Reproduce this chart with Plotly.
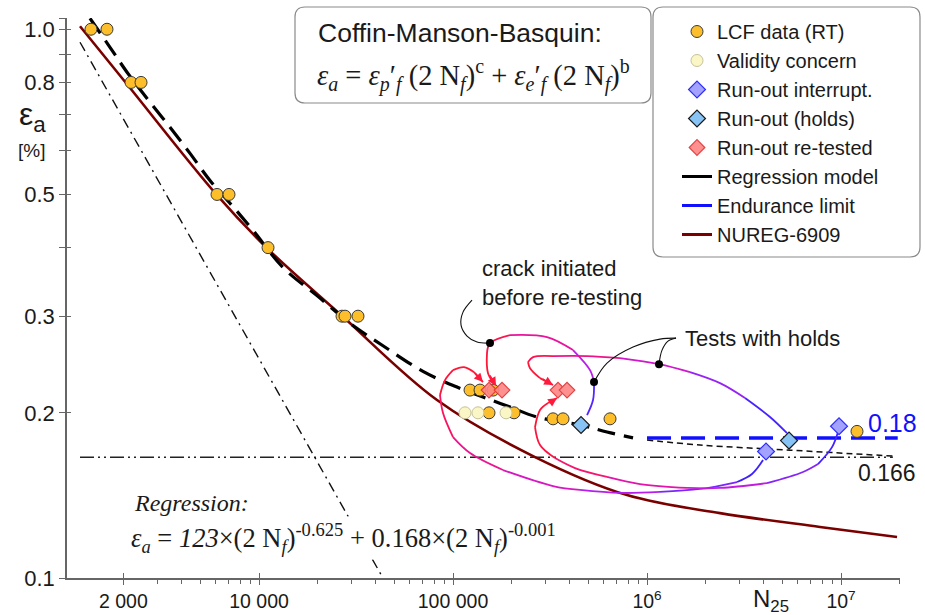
import math
import plotly.graph_objects as go

# ---------------- data ----------------
# LCF data (RT)
lcf_N = [1361, 1646, 2189, 2465, 6075, 7004, 11130, 26780, 27750, 32380,
         122400, 137800, 160800, 153300, 206300, 327700, 369000, 644700, 12090000]
lcf_eps = [1.0, 1.0, 0.8, 0.8, 0.5, 0.5, 0.4, 0.3, 0.3, 0.3,
           0.22, 0.22, 0.22, 0.2, 0.2, 0.195, 0.195, 0.195, 0.185]
# Validity concern
val_N = [115300, 134500, 187600]
val_eps = [0.2, 0.2, 0.2]
# Run-out interrupt.
intr_N = [4106000, 9765000]
intr_eps = [0.170, 0.189]
# Run-out (holds)
hold_N = [456900, 5395000]
hold_eps = [0.190, 0.178]
# Run-out re-tested
ret_N = [153300, 178900, 347700, 387000]
ret_eps = [0.22, 0.22, 0.22, 0.22]

# Regression model curve (long dash part, then thin short dash part)
reg_N = [1345, 1706, 2088, 2743, 3477, 4410, 5590, 7088, 9314, 13300, 19900,
         29440, 43550, 70000, 104800, 142700, 196700, 271000, 451500, 622000, 847000]
reg_eps = [1.047, 0.927, 0.835, 0.736, 0.663, 0.594, 0.530, 0.482, 0.430, 0.368, 0.327,
           0.2913, 0.265, 0.238, 0.2228, 0.2137, 0.2049, 0.1965, 0.190, 0.1845, 0.180]
reg_tail_N = [1000000, 1875000, 5460000, 18500000]
reg_tail_eps = [0.1784, 0.1747, 0.171, 0.1668]

# NUREG-6909 curve
nureg_N = [1195, 2088, 6075, 11130, 26150, 82700, 264700, 788700, 2378000, 7790000, 19440000]
nureg_eps = [1.0127, 0.794, 0.4985, 0.3975, 0.3027, 0.2110, 0.1661, 0.1416, 0.1313, 0.1239, 0.1188]

# plastic term (steep dash-dot) and elastic term level (0.166)
plast_N = [1195, 43550]
plast_eps = [0.947, 0.1]
elast_N = [1195, 18500000]
elast_eps = [0.166, 0.166]

# Endurance limit
endur_N = [1000000, 19600000]
endur_eps = [0.18, 0.18]

# coloured arrows (start at run-out diamond, end at re-tested point)
arcP_N = [490700, 526800, 533200, 508400, 415500, 305200, 196700, 155100, 149700, 151500, 166600]
arcP_eps = [0.1981, 0.2110, 0.2275, 0.2392, 0.2602, 0.2748, 0.2771, 0.2680, 0.2570, 0.2362, 0.2238]
arcQ_N = [5268000, 4305000, 3200000, 2378000, 1666000, 1153000, 725700, 490700, 327700,
          258500, 243600, 249400, 280900, 327700]
arcQ_eps = [0.1836, 0.1965, 0.2128, 0.2265, 0.2372, 0.2453, 0.2516, 0.2537, 0.2537,
            0.2526, 0.2474, 0.2412, 0.2313, 0.2247]
arcR_N = [3962000, 3477000, 2911000, 1876000, 1167000, 725700, 451400, 327700, 181000,
          122400, 100000, 88820, 85700, 90950, 100000, 113900, 128300, 142700]
arcR_eps = [0.1640, 0.1547, 0.1496, 0.1453, 0.1435, 0.1429, 0.1447, 0.1471, 0.1573,
            0.1689, 0.1806, 0.1998, 0.2155, 0.2294, 0.2392, 0.2423, 0.2372, 0.2275]
arcS_N = [9650000, 8990000, 7610000, 6370000, 4155000, 2378000, 1608000, 920400, 622000,
          425600, 335600, 280900, 264700, 280900, 308800, 343600]
arcS_eps = [0.1845, 0.1732, 0.1613, 0.1560, 0.1489, 0.1459, 0.1459, 0.1483, 0.1528,
            0.1586, 0.1654, 0.1747, 0.1884, 0.2023, 0.2084, 0.2128]

# black pointer lines and dots
crack_N = [125300, 112600, 110000, 118100, 133000, 155100]
crack_eps = [0.3209, 0.3051, 0.2889, 0.2760, 0.2691, 0.2680]
holdp1_N = [1411000, 1167000, 847000, 622000, 533200]
holdp1_eps = [0.2736, 0.2725, 0.2635, 0.2464, 0.2275]
holdp2_N = [1411000, 1283000, 1195000, 1153000]
holdp2_eps = [0.2736, 0.2702, 0.2602, 0.2453]
dots_N = [155100, 533200, 1153000]
dots_eps = [0.2680, 0.2275, 0.2453]

# ticks
x_tickvals = [2000, 10000, 100000, 1000000, 10000000]
x_ticktext = ["2 000", "10 000", "100 000", "10<sup>6</sup>", "10<sup>7</sup>"]
x_minor = [3000, 4000, 5000, 6000, 7000, 8000, 9000,
           20000, 30000, 40000, 50000, 60000, 70000, 80000, 90000,
           200000, 300000, 400000, 500000, 600000, 700000, 800000, 900000,
           2e6, 3e6, 4e6, 5e6, 6e6, 7e6, 8e6, 9e6, 2e7]
y_tickvals = [0.1, 0.2, 0.3, 0.5, 0.8, 1.0]
y_ticktext = ["0.1", "0.2", "0.3", "0.5", "0.8", "1.0"]
y_minor = [0.4, 0.6, 0.7, 0.9, 1.047]

XR = [3.0103, 7.304]
YR = [-1.0, 0.0205]

SANS = "Liberation Sans, Arial, sans-serif"
SERIF = "Liberation Serif, Times New Roman, serif"
TXT = "#1a1a1a"

fig = go.Figure()


def add_line(xs, ys, color, width, dash="solid", shape="spline"):
    fig.add_trace(go.Scatter(x=xs, y=ys, mode="lines",
                             line=dict(color=color, width=width, dash=dash, shape=shape, smoothing=1.0),
                             showlegend=False, hoverinfo="skip"))


stops = [(0.0, (30, 30, 255)), (0.15, (110, 40, 255)), (0.3, (185, 30, 235)),
         (0.45, (225, 20, 180)), (0.6, (245, 20, 110)), (0.75, (255, 20, 60)), (1.0, (255, 25, 50))]


def grad(t):
    for (t0, c0), (t1, c1) in zip(stops[:-1], stops[1:]):
        if t <= t1:
            f = (t - t0) / (t1 - t0)
            c = [round(a + (b - a) * f) for a, b in zip(c0, c1)]
            return "rgb(%d,%d,%d)" % tuple(c)
    return "rgb(%d,%d,%d)" % stops[-1][1]


def add_arc(xs, ys, step=2):
    n = len(xs)
    i = 0
    while i < n - 1:
        j = min(i + step, n - 1)
        t = ((i + j) / 2) / (n - 1)
        add_line(xs[i:j + 1], ys[i:j + 1], grad(t), 1.8)
        i = j


# background reference lines
add_line(elast_N, elast_eps, "#222222", 1.4, dash="14px,4px,2px,4px,2px,4px", shape="linear")
add_line(plast_N, plast_eps, "#111111", 1.4, dash="10px,5px,2px,5px", shape="linear")
add_line(nureg_N, nureg_eps, "#7a0000", 2.6)
add_line(reg_N, reg_eps, "#000000", 3.2, dash="18px,9px")
add_line(reg_tail_N, reg_tail_eps, "#111111", 1.5, dash="6px,4px")
add_line(endur_N, endur_eps, "#1010ff", 3.5, dash="24px,10px", shape="linear")

# arrows
for xs, ys in [(arcP_N, arcP_eps), (arcQ_N, arcQ_eps), (arcR_N, arcR_eps), (arcS_N, arcS_eps)]:
    add_arc(xs, ys)
for xs, ys in [(crack_N, crack_eps), (holdp1_N, holdp1_eps), (holdp2_N, holdp2_eps)]:
    add_line(xs, ys, "#111111", 1.1)

# markers
fig.add_trace(go.Scatter(x=lcf_N, y=lcf_eps, mode="markers", name="LCF data (RT)", legendrank=1,
                         marker=dict(symbol="circle", size=12, color="#FDBE2C",
                                     line=dict(color="#3a3a3a", width=1))))
fig.add_trace(go.Scatter(x=val_N, y=val_eps, mode="markers", name="Validity concern", legendrank=2,
                         marker=dict(symbol="circle", size=12, color="#FAF6C6",
                                     line=dict(color="#C6C29C", width=1))))
fig.add_trace(go.Scatter(x=intr_N, y=intr_eps, mode="markers", name="Run-out interrupt.", legendrank=3,
                         marker=dict(symbol="diamond", size=13, color="#A3A3FF",
                                     line=dict(color="#2E2EFF", width=1.2))))
fig.add_trace(go.Scatter(x=hold_N, y=hold_eps, mode="markers", name="Run-out (holds)", legendrank=4,
                         marker=dict(symbol="diamond", size=13, color="#88C3F5",
                                     line=dict(color="#1a1a1a", width=1.2))))
fig.add_trace(go.Scatter(x=ret_N, y=ret_eps, mode="markers", name="Run-out re-tested", legendrank=5,
                         opacity=0.9,
                         marker=dict(symbol="diamond", size=12, color="#FF8585",
                                     line=dict(color="#E03030", width=1.2))))
fig.add_trace(go.Scatter(x=dots_N, y=dots_eps, mode="markers", showlegend=False, hoverinfo="skip",
                         marker=dict(symbol="circle", size=8, color="#000000")))

# legend-only line samples
for name, color, rank in [("Regression model", "#000000", 6), ("Endurance limit", "#1010ff", 7),
                          ("NUREG-6909", "#7a0000", 8)]:
    fig.add_trace(go.Scatter(x=[None], y=[None], mode="lines", name=name, legendrank=rank,
                             line=dict(color=color, width=3)))

# dummy trace for overlay axes (crossing ticks)
fig.add_trace(go.Scatter(x=[None], y=[None], xaxis="x2", yaxis="y2", showlegend=False, hoverinfo="skip"))

# arrow heads
for xd, yd, ax, ay in [(arcP_N[-1], arcP_eps[-1], -7, -12), (arcQ_N[-1], arcQ_eps[-1], -12, -7),
                       (arcR_N[-1], arcR_eps[-1], -9, -10), (arcS_N[-1], arcS_eps[-1], -9, 6)]:
    fig.add_annotation(x=math.log10(xd), y=math.log10(yd), xref="x", yref="y", text="",
                       showarrow=True, ax=ax, ay=ay, arrowhead=2, arrowsize=1.1, arrowwidth=1.6,
                       arrowcolor="rgb(255,25,60)", standoff=0)


def px(x):
    return (x - 67) / 833


def py(y):
    return (578 - y) / 560


def rrect(x0, y0, x1, y1, r=10):
    a0, a1 = px(x0), px(x1)
    b0, b1 = py(y1), py(y0)   # bottom, top
    rx, ry = r / 833, r / 560
    return (f"M {a0 + rx},{b0} L {a1 - rx},{b0} Q {a1},{b0} {a1},{b0 + ry} "
            f"L {a1},{b1 - ry} Q {a1},{b1} {a1 - rx},{b1} L {a0 + rx},{b1} "
            f"Q {a0},{b1} {a0},{b1 - ry} L {a0},{b0 + ry} Q {a0},{b0} {a0 + rx},{b0} Z")


shapes = [
    dict(type="path", path=rrect(295, 7, 651, 103), xref="paper", yref="paper",
         line=dict(color="#8a8a8a", width=1.2), fillcolor="white", layer="below"),
    dict(type="path", path=rrect(653, 7, 920, 257), xref="paper", yref="paper",
         line=dict(color="#8a8a8a", width=1.2), fillcolor="white", layer="below"),
]

annots = [
    dict(x=px(460), y=py(33), text="Coffin-Manson-Basquin:", font=dict(family=SANS, size=26.5, color=TXT)),
    dict(x=px(473), y=py(76),
         text="<i>ε<sub>a</sub></i> = <i>ε<sub>p</sub></i>′<sub><i>f</i></sub> (2 N<sub><i>f</i></sub>)<sup>c</sup>"
              " + <i>ε<sub>e</sub></i>′<sub><i>f</i></sub> (2 N<sub><i>f</i></sub>)<sup>b</sup>",
         font=dict(family=SERIF, size=28.5, color=TXT)),
    dict(x=px(480), y=py(283), text="crack initiated<br>before re-testing", xanchor="left", align="left",
         font=dict(family=SANS, size=22, color=TXT)),
    dict(x=px(683), y=py(338), text="Tests with holds", xanchor="left",
         font=dict(family=SANS, size=22, color=TXT)),
    dict(x=px(892), y=py(423), text="0.18", font=dict(family=SANS, size=25, color="#1010ff")),
    dict(x=px(887), y=py(473), text="0.166", font=dict(family=SANS, size=23, color=TXT)),
    dict(x=px(132), y=py(503), text="<i>Regression:</i>", xanchor="left",
         font=dict(family=SERIF, size=24, color=TXT)),
    dict(x=px(128), y=py(538), xanchor="left", bgcolor="white", borderpad=2,
         text="<i>ε<sub>a</sub></i> = <i>123</i>×(2 N<sub><i>f</i></sub>)<sup>-0.625</sup>"
              " + 0.168×(2 N<sub><i>f</i></sub>)<sup>-0.001</sup>",
         font=dict(family=SERIF, size=26.5, color=TXT)),
    dict(x=px(32), y=py(116), text="ε<sub>a</sub>", font=dict(family=SANS, size=32, color=TXT)),
    dict(x=px(31), y=py(150), text="[%]", font=dict(family=SANS, size=19, color=TXT)),
    dict(x=px(771), y=py(600), text="N<sub>25</sub>", font=dict(family=SANS, size=24, color=TXT)),
]
for a in annots:
    a.setdefault("xref", "paper")
    a.setdefault("yref", "paper")
    a.setdefault("showarrow", False)
    a.setdefault("xanchor", "center")
    a.setdefault("yanchor", "middle")
    fig.add_annotation(**a)

axis_col = "#666666"
fig.update_layout(
    width=925, height=615,
    margin=dict(l=67, r=25, t=18, b=37, autoexpand=False),
    paper_bgcolor="white", plot_bgcolor="white",
    shapes=shapes,
    showlegend=True,
    legend=dict(x=px(677), y=py(12), xanchor="left", yanchor="top",
                bgcolor="rgba(0,0,0,0)", borderwidth=0,
                font=dict(family=SANS, size=20, color=TXT), itemwidth=30, traceorder="normal"),
    xaxis=dict(type="log", range=XR, showgrid=False, zeroline=False, automargin=False,
               showline=True, linecolor=axis_col, linewidth=1.5,
               ticks="outside", ticklen=5, tickwidth=1.3, tickcolor=axis_col,
               tickvals=x_tickvals, ticktext=x_ticktext,
               tickfont=dict(family=SANS, size=19.5, color=TXT),
               minor=dict(tickvals=x_minor, ticks="outside", ticklen=4, tickwidth=1, tickcolor=axis_col)),
    yaxis=dict(type="log", range=YR, showgrid=False, zeroline=False, automargin=False,
               showline=True, linecolor=axis_col, linewidth=1.5,
               ticks="outside", ticklen=6, tickwidth=1.3, tickcolor=axis_col,
               tickvals=y_tickvals, ticktext=y_ticktext,
               tickfont=dict(family=SANS, size=22, color=TXT),
               minor=dict(tickvals=y_minor, ticks="outside", ticklen=6, tickwidth=1.3, tickcolor=axis_col)),
    xaxis2=dict(type="log", range=XR, overlaying="x", anchor="y", showgrid=False, zeroline=False,
                automargin=False,
                showline=False, showticklabels=False, ticks="inside", ticklen=5, tickwidth=1.3,
                tickcolor=axis_col, tickvals=x_tickvals),
    yaxis2=dict(type="log", range=YR, overlaying="y", anchor="x", side="left", showgrid=False,
                zeroline=False, showline=False, showticklabels=False, ticks="inside", ticklen=4,
                automargin=False,
                tickwidth=1.3, tickcolor=axis_col, tickvals=y_tickvals,
                minor=dict(tickvals=y_minor, ticks="inside", ticklen=4, tickwidth=1.3, tickcolor=axis_col)),
)

fig.write_html("out.html")
